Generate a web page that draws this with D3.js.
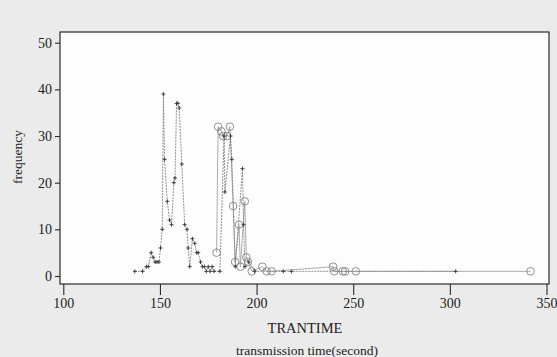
<!DOCTYPE html>
<html>
<head>
<meta charset="utf-8">
<script src="https://cdn.jsdelivr.net/npm/d3@7"></script>
<style>
  body { margin: 0; background: #ebebeb; }
  svg { display: block; }
</style>
</head>
<body>
<div id="container"></div>
<script>
// '+' group
const plusTime = [137, 141, 143, 144, 145.5, 146.5, 147.5, 148.5, 149.5, 150.3, 151.2, 151.8, 152.4, 153.8, 155, 156,
    157.2, 157.8, 158.6, 159.3, 160, 161.3, 162.8, 164, 164.6, 165.4, 166.8, 168, 169, 169.8, 171, 172, 173, 174,
    175, 176, 177, 178, 181, 183.2, 183.6, 186.5, 187.2, 189, 192.7, 193.3, 194, 196, 199, 213.8, 218, 303];
const plusFreq = [1, 1, 2, 2, 5, 4, 3, 3, 3, 6, 10, 39, 25, 16, 12, 11,
    20, 21, 37, 37, 36, 24, 11, 10, 6, 2, 8, 7, 5, 5, 3, 2, 2, 1,
    2, 1, 2, 1, 1, 30, 18, 30, 25, 2, 23, 11, 2, 3, 1, 1, 1, 1];

// 'o' group
const circleTime = [179.3, 180.1, 181.8, 182.7, 184.8, 186.2, 187.9, 188.9, 190.9, 191.6, 193.9, 194.7, 195.6, 197.5,
    203, 205.2, 207.8, 239.6, 240.2, 244.6, 245.8, 251.3, 341.7];
const circleFreq = [5, 32, 31, 30, 30, 32, 15, 3, 11, 2, 16, 4, 3, 1,
    2, 1, 1, 2, 1, 1, 1, 1, 1];

const xTicks = [100, 150, 200, 250, 300, 350];
const yTicks = [0, 10, 20, 30, 40, 50];

const config = {
    width: 557,
    height: 357,
    frameLeft: 60,
    frameTop: 32,
    frameRight: 549,
    frameBottom: 284,
}

const font = '"Liberation Serif", "Times New Roman", serif';

const svg = d3.select('#container')
    .append('svg')
    .attr('width', config.width)
    .attr('height', config.height)

svg.append('rect')
    .attr('x', config.frameLeft)
    .attr('y', config.frameTop)
    .attr('width', config.frameRight - config.frameLeft)
    .attr('height', config.frameBottom - config.frameTop)
    .attr('fill', '#fdfdfd')
    .attr('stroke', '#2a2a2a')
    .attr('stroke-width', 1.2)

const xScale = d3.scaleLinear()
    .domain([100, 350])
    .range([63.3, 546.5])

const yScale = d3.scaleLinear()
    .domain([0, 50])
    .range([276, 42.7])

const xAxis = svg.append('g')
    .attr('transform', `translate(0,${config.frameBottom})`)
    .call(d3.axisBottom(xScale).tickValues(xTicks).tickSize(11).tickPadding(3))
xAxis.select('.domain').remove()

const yAxis = svg.append('g')
    .attr('transform', `translate(${config.frameLeft},0)`)
    .call(d3.axisLeft(yScale).tickValues(yTicks).tickSize(5).tickPadding(3))
yAxis.select('.domain').remove()

svg.selectAll('.tick line').attr('stroke', '#2a2a2a').attr('stroke-width', 1.1)
svg.selectAll('.tick text')
    .style('font-family', font)
    .style('font-size', '14px')
    .attr('fill', '#222')

svg.append('text')
    .attr('text-anchor', 'middle')
    .attr('x', 305)
    .attr('y', 333)
    .text('TRANTIME')
    .style('font-family', font)
    .style('font-size', '14.5px')
    .style('fill', '#222')

svg.append('text')
    .attr('text-anchor', 'middle')
    .attr('x', 307)
    .attr('y', 355)
    .text('transmission time(second)')
    .style('font-family', font)
    .style('font-size', '13.5px')
    .style('fill', '#222')

svg.append('text')
    .attr('text-anchor', 'middle')
    .attr('transform', 'translate(22,157) rotate(-90)')
    .text('frequency')
    .style('font-family', font)
    .style('font-size', '13.5px')
    .style('fill', '#222')

const line = d3.line()
    .x(d => xScale(d[0]))
    .y(d => yScale(d[1]))

const plusData = plusTime.map((t, i) => [t, plusFreq[i]])
const circleData = circleTime.map((t, i) => [t, circleFreq[i]])

svg.append('path')
    .datum(circleData)
    .attr('d', line)
    .attr('fill', 'none')
    .attr('stroke', '#999')
    .attr('stroke-width', 0.8)

svg.append('path')
    .datum(plusData)
    .attr('d', line)
    .attr('fill', 'none')
    .attr('stroke', '#777')
    .attr('stroke-width', 0.8)
    .attr('stroke-dasharray', '2,1')

svg.append('g')
    .selectAll('circle')
    .data(circleData)
    .join('circle')
    .attr('cx', d => xScale(d[0]))
    .attr('cy', d => yScale(d[1]))
    .attr('r', 3.8)
    .attr('fill', 'none')
    .attr('stroke', '#777')
    .attr('stroke-width', 0.8)

svg.append('g')
    .selectAll('path')
    .data(plusData)
    .join('path')
    .attr('d', d => {
        const cx = xScale(d[0]), cy = yScale(d[1]), s = 2;
        return `M${cx - s},${cy}H${cx + s}M${cx},${cy - s}V${cy + s}`;
    })
    .attr('stroke', '#333')
    .attr('stroke-width', 0.9)
</script>
</body>
</html>
